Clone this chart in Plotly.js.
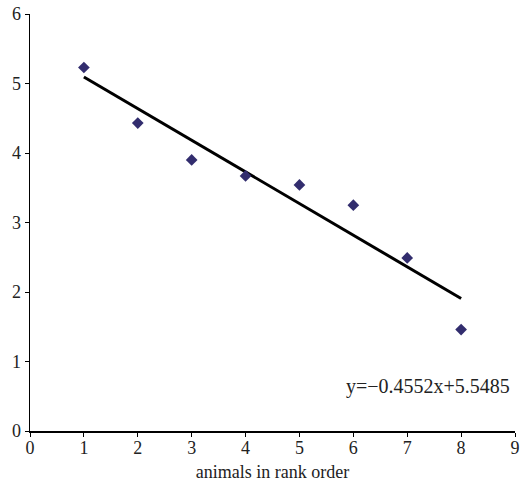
<!DOCTYPE html>
<html>
<head>
<meta charset="utf-8">
<script src="https://cdn.plot.ly/plotly-3.0.1.min.js"></script>
<style>html,body{margin:0;padding:0;background:#fff;}#chart{width:531px;height:482px;}</style>
</head>
<body>
<div id="chart"></div>
<script>
const rank = [1, 2, 3, 4, 5, 6, 7, 8];
const values = [5.23, 4.43, 3.90, 3.67, 3.54, 3.25, 2.49, 1.46];
const slope = -0.4552;
const intercept = 5.5485;
const equationLabel = "y=\u22120.4552x+5.5485";
const xTitle = "animals in rank order";

const trendX = [rank[0], rank[rank.length - 1]];
const trendY = trendX.map(x => slope * x + intercept);

const fam = "Liberation Serif, Times New Roman, serif";

Plotly.newPlot("chart", [
  {x: trendX, y: trendY, mode: "lines", line: {color: "#000", width: 3}, hoverinfo: "skip", showlegend: false},
  {x: rank, y: values, mode: "markers", marker: {symbol: "diamond", size: 9, color: "#322d6e"}, showlegend: false}
], {
  width: 531, height: 482,
  margin: {l: 30, r: 16, t: 14, b: 51},
  paper_bgcolor: "#fff", plot_bgcolor: "#fff",
  font: {family: fam, color: "#222", size: 18},
  xaxis: {range: [0, 9], dtick: 1, tick0: 0, showgrid: false, zeroline: false,
          showline: true, linecolor: "#000", linewidth: 1.5, ticks: "outside", ticklen: 4, tickcolor: "#000",
          ticklabelstandoff: -4,
          tickfont: {family: fam, size: 18, color: "#222"},
          title: {text: xTitle, font: {family: fam, size: 18, color: "#222"}, standoff: 8}},
  yaxis: {range: [0, 6], dtick: 1, tick0: 0, showgrid: false, zeroline: false,
          showline: true, linecolor: "#000", linewidth: 1.5, ticks: "outside", ticklen: 4, tickcolor: "#000",
          tickfont: {family: fam, size: 18, color: "#222"}},
  annotations: [{x: 8.95, y: 0.64, xref: "x", yref: "y", xanchor: "right", yanchor: "middle",
                 text: equationLabel, showarrow: false, font: {family: fam, size: 20, color: "#222"}}]
}, {displayModeBar: false, staticPlot: true});
</script>
</body>
</html>
